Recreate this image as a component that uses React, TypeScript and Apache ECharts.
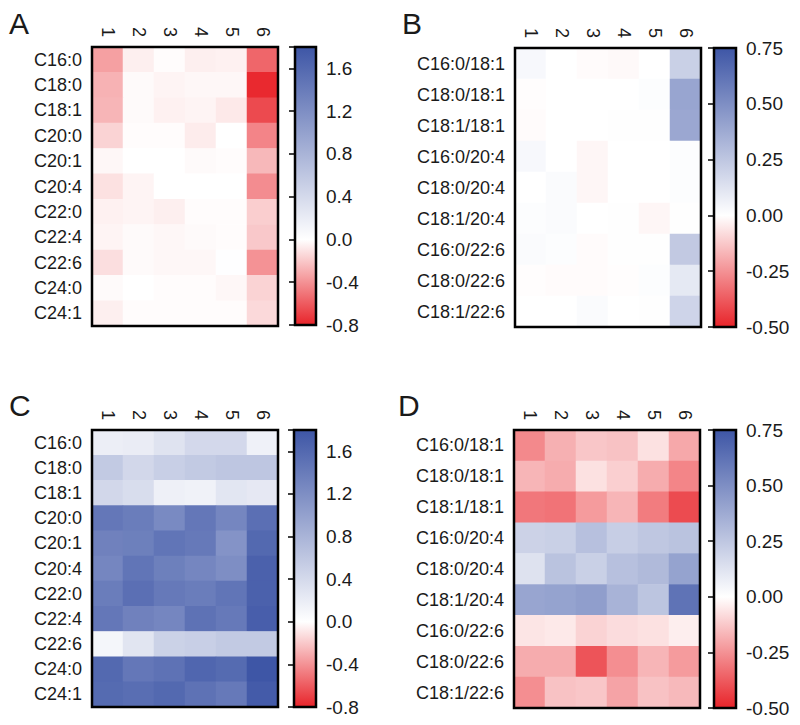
import React, { useEffect, useRef } from 'react';
import * as echarts from 'echarts';

const columns = ['1', '2', '3', '4', '5', '6'];
const rowsAC = ['C16:0', 'C18:0', 'C18:1', 'C20:0', 'C20:1', 'C20:4', 'C22:0', 'C22:4', 'C22:6', 'C24:0', 'C24:1'];
const rowsBD = ['C16:0/18:1', 'C18:0/18:1', 'C18:1/18:1', 'C16:0/20:4', 'C18:0/20:4', 'C18:1/20:4', 'C16:0/22:6', 'C18:0/22:6', 'C18:1/22:6'];

// each row: columns 1..6
const valuesA = [
  [-0.35, -0.06, -0.01, -0.06, -0.05, -0.56],
  [-0.28, -0.02, -0.04, -0.03, -0.03, -0.78],
  [-0.27, -0.02, -0.05, -0.04, -0.08, -0.66],
  [-0.16, -0.01, -0.01, -0.07, 0.0, -0.45],
  [-0.03, 0.0, 0.0, -0.02, -0.01, -0.26],
  [-0.11, -0.04, 0.0, 0.0, 0.0, -0.42],
  [-0.05, -0.04, -0.06, -0.01, -0.01, -0.18],
  [-0.04, -0.02, -0.03, -0.02, -0.01, -0.2],
  [-0.12, -0.02, -0.03, -0.03, 0.01, -0.4],
  [-0.02, 0.0, -0.01, -0.01, -0.03, -0.16],
  [-0.06, -0.01, -0.01, -0.01, -0.01, -0.14],
];
const valuesB = [
  [0.03, 0.0, -0.01, -0.015, 0.0, 0.21],
  [-0.005, 0.0, 0.0, 0.0, 0.01, 0.4],
  [-0.01, 0.0, 0.0, 0.005, 0.005, 0.39],
  [0.03, 0.0, -0.02, 0.0, 0.0, 0.01],
  [0.0, 0.02, -0.02, 0.0, 0.0, 0.01],
  [0.01, 0.02, 0.0, 0.005, -0.02, 0.005],
  [0.02, 0.01, -0.01, 0.005, 0.005, 0.24],
  [-0.005, -0.01, -0.01, -0.005, 0.01, 0.1],
  [0.0, 0.0, 0.02, 0.0, 0.005, 0.19],
];
const valuesC = [
  [0.18, 0.2, 0.3, 0.41, 0.41, 0.15],
  [0.57, 0.42, 0.51, 0.57, 0.61, 0.61],
  [0.42, 0.36, 0.16, 0.14, 0.27, 0.24],
  [1.45, 1.39, 1.25, 1.45, 1.29, 1.53],
  [1.34, 1.36, 1.47, 1.43, 1.15, 1.6],
  [1.29, 1.47, 1.36, 1.29, 1.2, 1.68],
  [1.39, 1.53, 1.43, 1.39, 1.47, 1.68],
  [1.45, 1.34, 1.29, 1.5, 1.43, 1.71],
  [0.1, 0.28, 0.48, 0.51, 0.57, 0.57],
  [1.6, 1.45, 1.5, 1.63, 1.58, 1.8],
  [1.58, 1.55, 1.6, 1.5, 1.43, 1.75],
];
const valuesD = [
  [-0.27, -0.18, -0.13, -0.14, -0.07, -0.2],
  [-0.17, -0.19, -0.07, -0.11, -0.19, -0.28],
  [-0.31, -0.32, -0.23, -0.17, -0.3, -0.41],
  [0.2, 0.21, 0.28, 0.22, 0.25, 0.27],
  [0.13, 0.27, 0.21, 0.28, 0.31, 0.41],
  [0.4, 0.41, 0.43, 0.34, 0.26, 0.62],
  [-0.06, -0.05, -0.1, -0.08, -0.07, -0.04],
  [-0.19, -0.19, -0.39, -0.26, -0.17, -0.23],
  [-0.26, -0.14, -0.13, -0.21, -0.14, -0.16],
];

const scaleAC = { min: -0.8, max: 1.8, interval: 0.4, digits: 1 };
const scaleBD = { min: -0.5, max: 0.75, interval: 0.25, digits: 2 };

const RED = [232, 36, 42];
const BLUE = [62, 86, 166];
const FONT = 'Arial, Liberation Sans, sans-serif';
const INK = '#1a1a1a';
const FRAME_COLOR = 'black';

function rgb(c: number[]) {
  return `rgb(${Math.round(c[0])},${Math.round(c[1])},${Math.round(c[2])})`;
}
function colorAt(v: number, min: number, max: number) {
  const end = v < 0 ? RED : BLUE;
  const t = v < 0 ? v / min : v / max;
  return rgb([0, 1, 2].map((i) => 255 + (end[i] - 255) * t));
}
function ramp(s: { min: number; max: number; interval: number }) {
  const step = s.interval / 4;
  const n = Math.round((s.max - s.min) / step);
  const out: string[] = [];
  for (let i = 0; i <= n; i++) out.push(colorAt(s.min + i * step, s.min, s.max));
  return out;
}

const panels = [
  { letter: 'A', rows: rowsAC, values: valuesA, scale: scaleAC, grid: { left: 92, top: 47, width: 186, height: 279 }, bar: { left: 295, top: 47, width: 21, height: 278 }, lx: 9, ly: 8 },
  { letter: 'B', rows: rowsBD, values: valuesB, scale: scaleBD, grid: { left: 515, top: 48, width: 186, height: 279 }, bar: { left: 714, top: 48, width: 22, height: 279 }, lx: 402, ly: 8 },
  { letter: 'C', rows: rowsAC, values: valuesC, scale: scaleAC, grid: { left: 92, top: 430, width: 186, height: 277 }, bar: { left: 294, top: 430, width: 22, height: 277 }, lx: 9, ly: 390 },
  { letter: 'D', rows: rowsBD, values: valuesD, scale: scaleBD, grid: { left: 514, top: 430, width: 186, height: 278 }, bar: { left: 714, top: 430, width: 22, height: 278 }, lx: 398, ly: 390 },
];

export default function App() {
  const ref = useRef<HTMLDivElement>(null);
  useEffect(() => {
    document.body.style.margin = '0';
    if (!ref.current) return;
    const chart = echarts.init(ref.current, null, { renderer: 'svg' });
    const grid: any[] = [];
    const xAxis: any[] = [];
    const yAxis: any[] = [];
    const series: any[] = [];
    const visualMap: any[] = [];
    const graphic: any[] = [];
    panels.forEach((p) => {
      const s = p.scale;
      // heatmap grid: framed by the grid border, drawn above the cells
      const hg = grid.length;
      grid.push({ ...p.grid, show: true, borderColor: FRAME_COLOR, borderWidth: 2.5, backgroundColor: 'rgba(0,0,0,0)', z: 20 });
      xAxis.push({
        type: 'category', gridIndex: hg, data: columns, position: 'top',
        axisLine: { show: false }, axisTick: { show: false }, splitLine: { show: false },
        axisLabel: { rotate: 90, fontSize: 18, color: INK, fontFamily: FONT, margin: 10 },
      });
      yAxis.push({
        type: 'category', gridIndex: hg, data: p.rows, inverse: true,
        axisLine: { show: false }, axisTick: { show: false }, splitLine: { show: false },
        axisLabel: { fontSize: 18, color: INK, fontFamily: FONT, margin: 10 },
      });
      const data: any[] = [];
      p.values.forEach((row, r) => row.forEach((v, c) => data.push([c, r, v])));
      visualMap.push({
        type: 'continuous', show: false, seriesIndex: series.length, dimension: 2,
        min: s.min, max: s.max, inRange: { color: ramp(s) },
      });
      series.push({ type: 'heatmap', xAxisIndex: hg, yAxisIndex: hg, data, z: -1 });

      // colour bar grid
      const bg = grid.length;
      grid.push({ ...p.bar, show: true, borderColor: FRAME_COLOR, borderWidth: 2.5, backgroundColor: 'rgba(0,0,0,0)', z: 20 });
      xAxis.push({ type: 'value', gridIndex: bg, min: 0, max: 1, show: false });
      yAxis.push({
        type: 'value', gridIndex: bg, min: s.min, max: s.max, interval: s.interval, position: 'right', z: 21,
        axisLine: { show: false }, splitLine: { show: false },
        axisTick: { show: true, inside: true, length: 6, lineStyle: { color: FRAME_COLOR, width: 1.5 } },
        axisLabel: {
          fontSize: 19, color: INK, fontFamily: FONT, margin: 10,
          formatter: (v: number) => {
            const k = Math.round((v - s.min) / s.interval);
            if (Math.abs(s.min + k * s.interval - v) > 1e-6) return '';
            const vv = Math.abs(v) < 1e-9 ? 0 : v;
            return vv.toFixed(s.digits);
          },
        },
      });
      const zeroFrac = (0 - s.min) / (s.max - s.min);
      series.push({
        type: 'custom', xAxisIndex: bg, yAxisIndex: bg, z: -1,
        data: [[0, s.min, s.max]],
        encode: { x: 0, y: [1, 2] },
        renderItem: (params: any, api: any) => {
          const p0 = api.coord([0, api.value(1)]);
          const p1 = api.coord([1, api.value(2)]);
          return {
            type: 'rect',
            shape: { x: p0[0], y: p1[1], width: p1[0] - p0[0], height: p0[1] - p1[1] },
            style: {
              fill: new echarts.graphic.LinearGradient(0, 1, 0, 0, [
                { offset: 0, color: rgb(RED) },
                { offset: zeroFrac, color: '#ffffff' },
                { offset: 1, color: rgb(BLUE) },
              ]),
            },
          };
        },
      });

      graphic.push({
        type: 'text', left: p.lx, top: p.ly,
        style: { text: p.letter, fontSize: 30, fill: INK, fontFamily: FONT },
      });
    });
    chart.setOption({
      animation: false,
      grid, xAxis, yAxis, series, visualMap, graphic,
    });
    return () => chart.dispose();
  }, []);
  return <div ref={ref} style={{ width: 800, height: 725 }} />;
}
